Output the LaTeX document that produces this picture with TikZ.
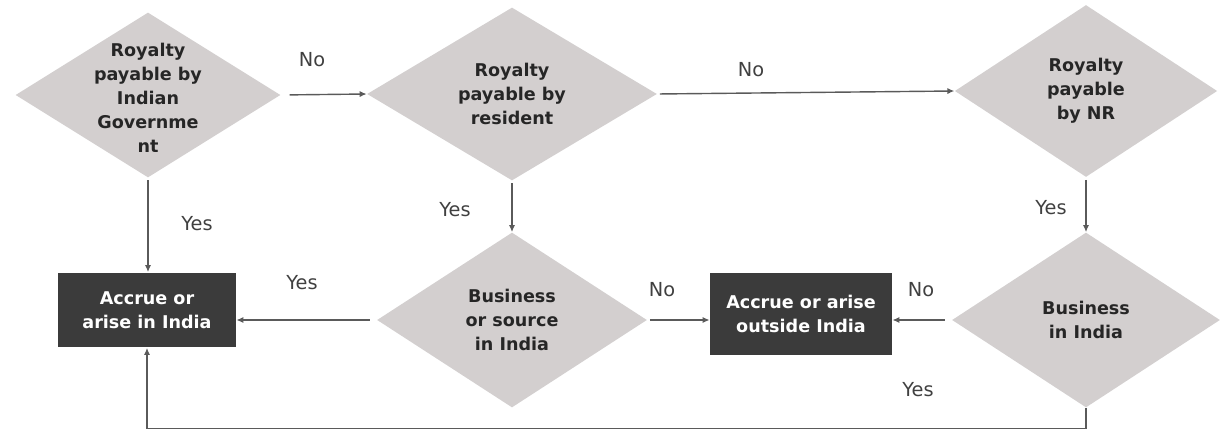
\documentclass[tikz,border=0pt]{standalone}
\usepackage{fontspec}
\setmainfont{DejaVu Sans}
\usepackage{tikz}
\usetikzlibrary{arrows.meta,calc,positioning,shapes.geometric}
\usepackage{xcolor}
\definecolor{rombo}{HTML}{D3CFCF}
\definecolor{scatola}{HTML}{3B3B3B}
\definecolor{linea}{HTML}{5A5A5A}

\begin{document}
\begin{tikzpicture}[x=0.02cm, y=-0.02cm,
  decision/.style={diamond, fill=rombo, inner sep=0pt},
  dtext/.style={align=center, text=black!85, font=\fontsize{10}{13.6}\selectfont\bfseries},
  outcome/.style={rectangle, fill=scatola, inner sep=0pt, align=center, text=white, font=\fontsize{10}{13.6}\selectfont\bfseries},
  lbl/.style={font=\fontsize{11}{13}\selectfont, text=black!75},
  link/.style={draw=linea, line width=0.8pt, shorten <=1.5pt, -{Latex[length=4pt,width=3.5pt]}}]

\useasboundingbox (0,0) rectangle (1220,432);

% --- Rombi di decisione (riga alta) ---
\node[decision, minimum width=5.3cm, minimum height=3.3cm] (d1) at (148,95) {};
\node[dtext] (t1) at (148,98) {Royalty\\payable by\\Indian\\Governme\\nt};
\node[decision, minimum width=5.8cm, minimum height=3.46cm] (d2) at (512,94) {};
\node[dtext] (t2) at (d2) {Royalty\\payable by\\resident};
\node[decision, minimum width=5.25cm, minimum height=3.44cm] (d3) at (1086,91) {};
\node[dtext] (t3) at (d3) {Royalty\\payable\\by NR};

% --- Rombi di decisione (riga bassa) ---
\node[decision, minimum width=5.4cm, minimum height=3.5cm] (d4) at (512,320) {};
\node[dtext] (t4) at (d4) {Business\\or source\\in India};
\node[decision, minimum width=5.36cm, minimum height=3.5cm] (d5) at (1086,320) {};
\node[dtext] (t5) at (d5) {Business\\in India};

% --- Esiti ---
\node[outcome, minimum width=3.56cm, minimum height=1.5cm] (b1) at (147,310) {Accrue or\\arise in India};
\node[outcome, minimum width=3.64cm, minimum height=1.64cm] (b2) at (801,314) {Accrue or arise\\outside India};

% --- Collegamenti ---
\draw[link, shorten <=5pt] (d1.east) -- (d2.west);
\draw[link] (d2.east) -- (d3.west);
\draw[link] (d1.south) -- (d1.south |- b1.north);
\draw[link] (d2.south) -- (d4.north);
\draw[link] (d3.south) -- (d5.north);
\draw[link, shorten <=4pt] (d4.west) -- (d4.west -| b1.east);
\draw[link] (d4.east) -- (d4.east -| b2.west);
\draw[link, shorten <=4pt] (d5.west) -- (d5.west -| b2.east);
\draw[link, shorten <=0pt] (d5.south) -- ++(0,20.5) -| (b1.south);

% --- Etichette ---
\node[lbl] (no1) at (312,60) {No};
\node[lbl] (no2) at (751,70) {No};
\node[lbl] (yes1) at (197,224) {Yes};
\node[lbl] (yes2) at (455,210) {Yes};
\node[lbl] (yes3) at (1051,208) {Yes};
\node[lbl] (yes4) at (302,283) {Yes};
\node[lbl] (no3) at (662,290) {No};
\node[lbl] (no4) at (921,290) {No};
\node[lbl] (yes5) at (918,390) {Yes};

\end{tikzpicture}
\end{document}
